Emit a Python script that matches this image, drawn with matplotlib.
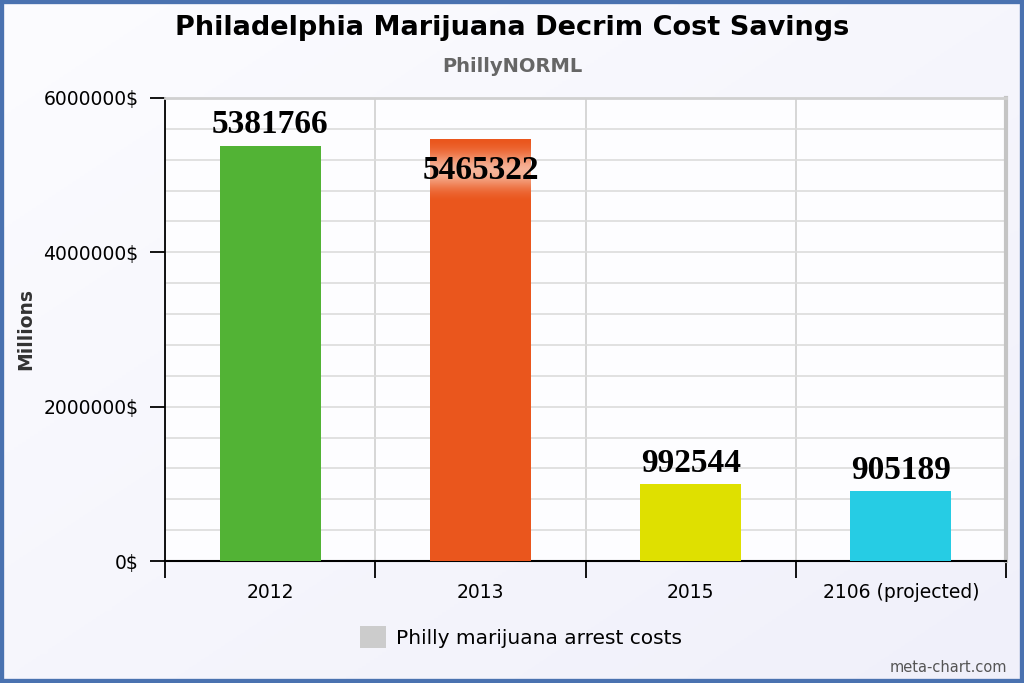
import matplotlib
matplotlib.use('Agg')
import matplotlib.pyplot as plt
from matplotlib.patches import Rectangle, Patch
from matplotlib.colors import LinearSegmentedColormap
import numpy as np

# data
categories = ['2012', '2013', '2015', '2106 (projected)']
costs = [5381766, 5465322, 992544, 905189]
bar_colors = ['#52b335', '#ea561d', '#dfe000', '#26cce4']
y_ticks = [0, 2000000, 4000000, 6000000]

plt.rcParams['font.family'] = 'DejaVu Sans'

fig = plt.figure(figsize=(10.24, 6.83), dpi=100)
fig.patch.set_facecolor('#f5f5fc')

# soft background gradient
bg = fig.add_axes([0, 0, 1, 1], zorder=-10)
grad = np.linspace(0, 1, 256)
gx, gy = np.meshgrid(grad, grad)
bg.imshow((gx + gy) / 2, cmap=LinearSegmentedColormap.from_list(
    'g', ['#fcfcff', '#f0f0fa']), aspect='auto', extent=[0, 1, 0, 1], origin='upper')
bg.set_axis_off()

ax = fig.add_axes([165 / 1024, 1 - 561 / 683, 841 / 1024, 463 / 683])
ax.set_facecolor('#fdfdff')

x = np.arange(len(categories))
bw = 0.48
ax.bar(x, costs, width=bw, color=bar_colors, zorder=3)

# value labels
for i, v in enumerate(costs):
    if i == 1:
        # label pushed inside the bar with a soft glow band
        yc = v - 400000
        prof = np.linspace(-1, 1, 100)
        glow = np.exp(-(prof * 1.7) ** 2)[:, None]
        cm = LinearSegmentedColormap.from_list('glow', [bar_colors[i], '#f6b398'])
        ax.imshow(glow, cmap=cm, aspect='auto', zorder=4,
                  extent=[i - bw / 2, i + bw / 2, v - 800000, v - 20000], origin='lower')
        ax.text(i, yc, str(v), ha='center', va='center',
                family='Liberation Serif', fontweight='bold', fontsize=24,
                color='black', zorder=5)
    else:
        ax.text(i, v + 70000, str(v), ha='center', va='bottom',
                family='Liberation Serif', fontweight='bold', fontsize=24,
                color='black', zorder=5)

ax.set_xlim(-0.5, len(categories) - 0.5)
ax.set_ylim(0, 6000000)

ax.set_yticks(y_ticks)
ax.set_yticklabels([f'{v}$' for v in y_ticks], fontsize=13.5)
ax.set_yticks(np.arange(0, 6000001, 400000), minor=True)
ax.tick_params(axis='y', which='major', length=11, width=1.3, pad=8, color='black')
ax.tick_params(axis='y', which='minor', length=0)
ax.grid(True, axis='y', which='both', color='#dcdcdc', linewidth=1.2, zorder=0)

ax.set_xticks(x)
ax.set_xticklabels(categories, fontsize=13.5)
ax.set_xticks(np.arange(-0.5, len(categories)), minor=True)
ax.tick_params(axis='x', which='major', length=0, pad=16)
ax.tick_params(axis='x', which='minor', length=12, width=1.3, color='black')
ax.grid(True, axis='x', which='minor', color='#d0d0d0', linewidth=1.2, zorder=0)

ax.spines['left'].set_color('black')
ax.spines['left'].set_linewidth(1.3)
ax.spines['bottom'].set_color('black')
ax.spines['bottom'].set_linewidth(1.5)
ax.spines['top'].set_color('#d0d0d0')
ax.spines['top'].set_linewidth(2)
ax.spines['right'].set_color('#c4c4c4')
ax.spines['right'].set_linewidth(3)

ax.set_ylabel('Millions', fontsize=13.5, fontweight='bold', color='#333333')
ax.yaxis.set_label_coords(-(165 - 35) / 841, 0.5)

fig.text(0.5, 1 - 28 / 683, 'Philadelphia Marijuana Decrim Cost Savings',
         ha='center', va='center', fontsize=19.5, fontweight='bold', color='black')
fig.text(0.5, 1 - 66 / 683, 'PhillyNORML', ha='center', va='center',
         fontsize=14, fontweight='bold', color='#666666')

fig.legend(handles=[Patch(facecolor='#cccccc', label='Philly marijuana arrest costs')],
           loc='center', bbox_to_anchor=(521 / 1024, 1 - 637 / 683), frameon=False,
           fontsize=14.5, handlelength=1.3, handleheight=1.3, handletextpad=0.5)

fig.text(1 - 17 / 1024, 1 - 668 / 683, 'meta-chart.com', ha='right', va='center',
         fontsize=10.5, color='#555555')

# blue frame
fig.add_artist(Rectangle((0, 0), 1, 1, transform=fig.transFigure, fill=False,
                         edgecolor='#4a72b0', linewidth=6, zorder=20))

fig.savefig('out.png', dpi=100, facecolor=fig.get_facecolor())
